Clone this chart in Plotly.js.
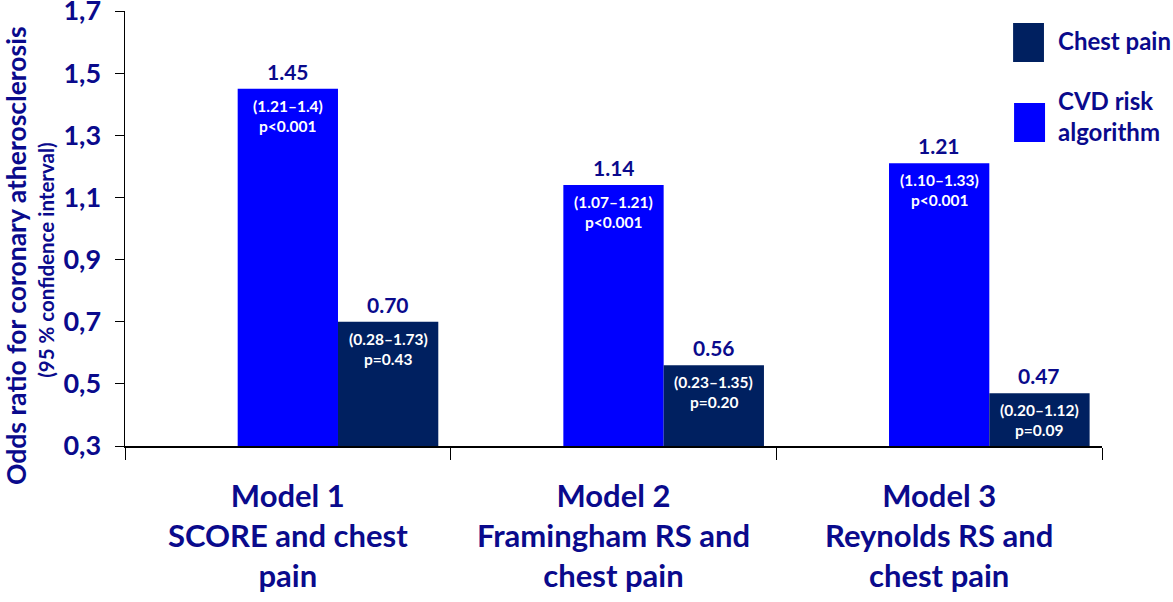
<!DOCTYPE html>
<html>
<head>
<meta charset="utf-8">
<script src="https://cdn.plot.ly/plotly-3.0.1.min.js"></script>
<style>html,body{margin:0;padding:0;background:#fff;}#chart{width:1173px;height:602px;}</style>
</head>
<body>
<div id="chart"></div>
<script>
// ---- data ----
var categories = ['Model 1', 'Model 2', 'Model 3'];
var categoryLabels = ['Model 1<br>SCORE and chest<br>pain', 'Model 2<br>Framingham RS and<br>chest pain', 'Model 3<br>Reynolds RS and<br>chest pain'];
var seriesNames = ['CVD risk algorithm', 'Chest pain'];
var cvdValues = [1.45, 1.14, 1.21];
var chestValues = [0.70, 0.56, 0.47];
var cvdLabels = ['1.45', '1.14', '1.21'];
var chestLabels = ['0.70', '0.56', '0.47'];
var cvdCI = ['(1.21\u20131.4)', '(1.07\u20131.21)', '(1.10\u20131.33)'];
var chestCI = ['(0.28\u20131.73)', '(0.23\u20131.35)', '(0.20\u20131.12)'];
var cvdP = ['p&lt;0.001', 'p&lt;0.001', 'p&lt;0.001'];
var chestP = ['p=0.43', 'p=0.20', 'p=0.09'];
var yTickVals = [0.3, 0.5, 0.7, 0.9, 1.1, 1.3, 1.5, 1.7];
var yTitle = 'Odds ratio for coronary atherosclerosis';
var ySubTitle = '(95 % confidence interval)';

// ---- style ----
var FONT = 'Lato, "Open Sans", sans-serif';
var NAVYTXT = '#0a0a8c';
var BLUE = '#0000ff';
var NAVY = '#002060';
var BW = 0.308; // bar width in category units

var traces = [
  {type: 'bar', name: seriesNames[0], x: categories, y: cvdValues, base: 0,
   width: BW, offset: -BW / 2, marker: {color: BLUE}, hoverinfo: 'x+y'},
  {type: 'bar', name: seriesNames[1], x: categories, y: chestValues, base: 0,
   width: BW, offset: BW / 2, marker: {color: NAVY}, hoverinfo: 'x+y'}
];

var annotations = [];
function addBarLabels(values, labels, ci, p, shift) {
  for (var i = 0; i < values.length; i++) {
    var xc = i + shift;
    annotations.push({x: xc, y: values[i], xref: 'x', yref: 'y', text: labels[i], showarrow: false,
      yanchor: 'bottom', yshift: 3, font: {family: FONT, size: 21, color: NAVYTXT, weight: 'bold'}});
    annotations.push({x: xc, y: values[i], xref: 'x', yref: 'y', text: ci[i], showarrow: false,
      yanchor: 'middle', yshift: -17, font: {family: FONT, size: 15.5, color: '#ffffff', weight: 'bold'}});
    annotations.push({x: xc, y: values[i], xref: 'x', yref: 'y', text: p[i], showarrow: false,
      yanchor: 'middle', yshift: -37, font: {family: FONT, size: 15.5, color: '#ffffff', weight: 'bold'}});
  }
}
addBarLabels(cvdValues, cvdLabels, cvdCI, cvdP, 0);
addBarLabels(chestValues, chestLabels, chestCI, chestP, BW);

// y-axis titles
annotations.push({xref: 'paper', yref: 'paper', x: -0.1116, y: 0.439, text: yTitle, textangle: -90,
  showarrow: false, xanchor: 'center', yanchor: 'middle', borderpad: 0,
  font: {family: FONT, size: 26.5, color: NAVYTXT, weight: 'bold'}});
annotations.push({xref: 'paper', yref: 'paper', x: -0.081, y: 0.4276, text: ySubTitle, textangle: -90,
  showarrow: false, xanchor: 'center', yanchor: 'middle',
  font: {family: FONT, size: 20.5, color: NAVYTXT, weight: 'bold'}});

// legend text
annotations.push({xref: 'paper', yref: 'paper', x: 0.953, y: 0.9333, text: seriesNames[1],
  showarrow: false, xanchor: 'left', yanchor: 'middle', align: 'left',
  font: {family: FONT, size: 24, color: NAVYTXT, weight: 'bold'}});
annotations.push({xref: 'paper', yref: 'paper', x: 0.953, y: 0.7586, text: 'CVD risk<br>algorithm',
  showarrow: false, xanchor: 'left', yanchor: 'middle', align: 'left',
  font: {family: FONT, size: 24, color: NAVYTXT, weight: 'bold'}});

var shapes = [
  {type: 'rect', xref: 'paper', yref: 'paper', x0: 0.909, x1: 0.9406, y0: 0.8828, y1: 0.9724,
   fillcolor: NAVY, line: {width: 0}},
  {type: 'rect', xref: 'paper', yref: 'paper', x0: 0.910, x1: 0.9417, y0: 0.6989, y1: 0.7885,
   fillcolor: BLUE, line: {width: 0}}
];

var layout = {
  width: 1173, height: 602,
  margin: {l: 125, r: 71, t: 11, b: 156},
  paper_bgcolor: '#ffffff', plot_bgcolor: '#ffffff',
  showlegend: false,
  barmode: 'overlay',
  separators: ',.',
  xaxis: {
    type: 'category', tickvals: categories, ticktext: categoryLabels,
    range: [-0.5, 2.5], tickson: 'boundaries', ticks: 'outside', ticklen: 12, tickwidth: 1, tickcolor: '#000',
    showline: true, linecolor: '#000', linewidth: 1.5, showgrid: false, zeroline: false,
    tickfont: {family: FONT, size: 31, color: NAVYTXT, weight: 'bold'},
    ticklabelstandoff: 22, ticklabeloverflow: 'allow',
    automargin: false, fixedrange: true
  },
  yaxis: {
    range: [0.3, 1.7], tickmode: 'array', tickvals: yTickVals, tickformat: '.1f',
    ticks: 'outside', ticklen: 9, tickwidth: 1, tickcolor: '#000',
    showline: true, linecolor: '#000', linewidth: 1.5, showgrid: false, zeroline: false,
    tickfont: {family: FONT, size: 27, color: NAVYTXT, weight: 'bold'},
    ticklabelstandoff: 8, ticklabeloverflow: 'allow',
    automargin: false, fixedrange: true
  },
  annotations: annotations,
  shapes: shapes
};

Plotly.newPlot('chart', traces, layout, {displayModeBar: false, staticPlot: true});
</script>
</body>
</html>
